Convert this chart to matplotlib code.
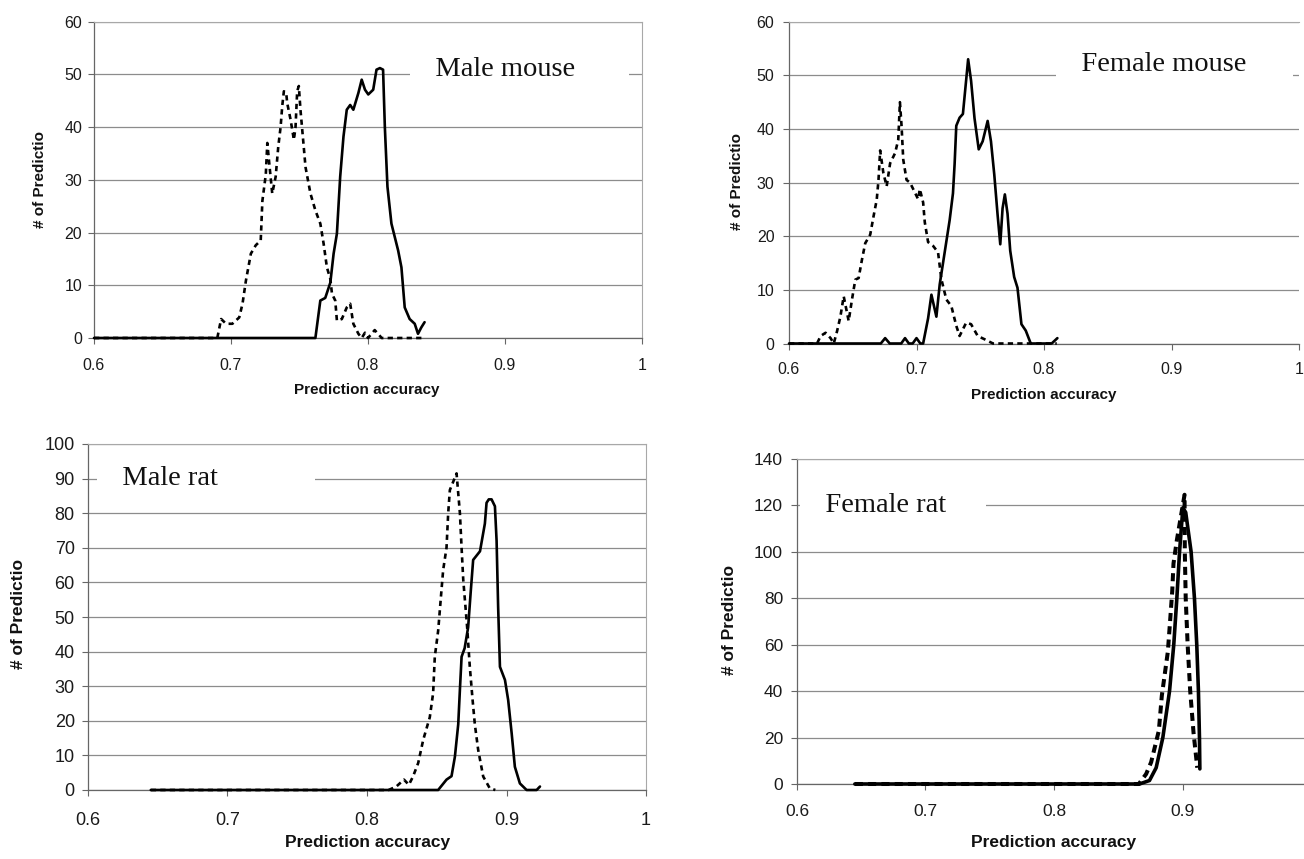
import matplotlib
matplotlib.use("Agg")
import matplotlib.pyplot as plt

# ---------------- data ----------------
x_ticks = [0.6, 0.7, 0.8, 0.9, 1.0]
x_tick_labels = ["0.6", "0.7", "0.8", "0.9", "1"]

# Male mouse
mm_solid_x = [0.600, 0.7616, 0.7652, 0.7688, 0.7725, 0.7749, 0.7773, 0.7797, 0.7821, 0.7845, 0.787,
              0.7893, 0.793, 0.7954, 0.7978, 0.8002, 0.8038, 0.8062, 0.8087, 0.811, 0.8123, 0.8142,
              0.8171, 0.822, 0.8244, 0.8268, 0.8304, 0.8341, 0.8365, 0.8389, 0.8413]
mm_solid_y = [0, 0, 7.1, 7.6, 10.5, 16, 19.8, 30.6, 38.2, 43.3, 44.2,
              43.3, 46.5, 49, 47.1, 46.2, 47.1, 50.9, 51.2, 50.9, 40, 28.7,
              21.7, 16.6, 13.4, 5.8, 3.6, 2.7, 0.8, 2, 3]
mm_dash_x = [0.600, 0.690, 0.6928, 0.6964, 0.701, 0.706, 0.7084, 0.7109, 0.7145, 0.7181, 0.7217,
             0.7229, 0.7254, 0.7265, 0.7282, 0.7301, 0.7326, 0.7345, 0.7362, 0.7374, 0.7386, 0.7403,
             0.741, 0.7435, 0.7459, 0.7471, 0.7483, 0.7495, 0.7507, 0.752, 0.7544, 0.758, 0.7616,
             0.7652, 0.7676, 0.770, 0.7725, 0.7737, 0.7761, 0.7773, 0.7809, 0.7845, 0.787, 0.7893,
             0.793, 0.7954, 0.7978, 0.800, 0.8049, 0.810, 0.840]
mm_dash_y = [0, 0, 3.6, 2.7, 2.7, 3.9, 6.5, 10.9, 16, 17.6, 18.5,
             26, 31, 37, 32.4, 27.4, 30.6, 36.3, 40, 44, 46.8, 46.5,
             44.6, 41.4, 37.6, 40, 46.8, 47.8, 43.3, 39.5, 32.4, 27.4, 24.2,
             21.7, 17.9, 13.4, 11.2, 8.4, 7.1, 3.3, 3.6, 5.8, 6.5, 2.7,
             0.8, 0, 1, 0, 1.5, 0, 0]

# Female mouse
fm_solid_x = [0.600, 0.672, 0.6754, 0.679, 0.688, 0.691, 0.694, 0.697, 0.700, 0.703, 0.7052,
              0.7091, 0.7117, 0.7156, 0.7182, 0.7221, 0.726, 0.7286, 0.7299, 0.7312, 0.7338,
              0.7364, 0.7389, 0.7405, 0.7428, 0.7455, 0.7488, 0.7519, 0.7558, 0.7584, 0.761,
              0.7636, 0.7657, 0.7675, 0.7693, 0.7714, 0.7735, 0.7766, 0.7792, 0.7823, 0.7857,
              0.7896, 0.806, 0.8105]
fm_solid_y = [0, 0, 1, 0, 0, 1, 0, 0, 1, 0, 0,
              4.7, 9.1, 5, 11, 17, 23, 28, 33.5, 40.6, 42.1,
              42.8, 49, 53, 49, 42, 36.2, 37.7, 41.5, 37.7, 31.5,
              24, 18.5, 25.2, 27.8, 24.2, 17.3, 12.4, 10.4, 3.6, 2.4,
              0, 0, 1]
fm_dash_x = [0.600, 0.622, 0.6248, 0.6287, 0.6326, 0.6351, 0.6377, 0.6403, 0.6429, 0.6468, 0.6494,
             0.652, 0.6546, 0.6572, 0.6598, 0.6637, 0.6663, 0.6688, 0.6702, 0.6715, 0.674, 0.6766,
             0.6793, 0.6832, 0.6857, 0.687, 0.6883, 0.6896, 0.6922, 0.6949, 0.6974, 0.7013, 0.7026,
             0.7052, 0.7065, 0.7091, 0.713, 0.7169, 0.7195, 0.7234, 0.7273, 0.7312, 0.7338, 0.739,
             0.7428, 0.748, 0.7533, 0.760, 0.810]
fm_dash_y = [0, 0, 1.4, 2, 1, 0, 2.3, 5, 8.8, 4.2, 8.2,
             11.9, 12.2, 15.6, 18.7, 20.3, 23.7, 26.8, 30.5, 36, 31.8, 29.3,
             33.6, 35.5, 38, 45, 40.5, 34.3, 30.5, 30, 28.8, 26.9, 28.8,
             26.3, 22.6, 18.9, 18.2, 17, 12, 8.2, 7, 3.3, 1.4, 3.9,
             3.6, 1.4, 0.8, 0, 0]

# Male rat
mr_solid_x = [0.645, 0.848, 0.851, 0.857, 0.8606, 0.863, 0.8654, 0.8666, 0.8678, 0.870, 0.8725,
              0.8743, 0.8761, 0.881, 0.8845, 0.8857, 0.8873, 0.8893, 0.8917, 0.8929, 0.894,
              0.8953, 0.8989, 0.9012, 0.9037, 0.906, 0.9096, 0.9144, 0.9216, 0.924]
mr_solid_y = [0, 0, 0, 3, 4, 9.6, 19, 29, 38.5, 41, 47,
              57, 66.5, 69, 77, 83, 84, 84, 82, 72, 53,
              35.6, 31.8, 26, 16.4, 6.7, 1.9, 0, 0, 1]
mr_dash_x = [0.645, 0.8155, 0.821, 0.8265, 0.830, 0.833, 0.8367, 0.8403, 0.845, 0.8474, 0.8486,
             0.851, 0.8534, 0.8546, 0.857, 0.8582, 0.8594, 0.8642, 0.8666, 0.8678, 0.869,
             0.8718, 0.8737, 0.8757, 0.8773, 0.8797, 0.8833, 0.888, 0.892]
mr_dash_y = [0, 0, 1, 3, 1.5, 3.9, 7.8, 14.5, 21, 28, 38.5,
             46, 57.8, 63.6, 70, 80, 86.7, 91.5, 80, 70, 60.7,
             47, 35.6, 26, 19, 11.6, 3.9, 0.5, 0]

# Female rat
fr_solid_x = [0.645, 0.8665, 0.8743, 0.8795, 0.8847, 0.8899, 0.8932, 0.8956, 0.8977, 0.9003,
              0.9025, 0.9067, 0.9093, 0.9111, 0.9124, 0.9132, 0.9135]
fr_solid_y = [0, 0, 1.5, 7, 20, 40, 60, 80, 100, 119,
              117, 100, 80, 60, 40, 20, 6.5]
fr_dash_x = [0.645, 0.866, 0.8717, 0.8756, 0.8816, 0.8839, 0.8886, 0.8904, 0.892, 0.893,
             0.8956, 0.9016, 0.9018, 0.9025, 0.904, 0.906, 0.9086, 0.9115]
fr_dash_y = [0, 0, 4.3, 9.4, 23, 38, 57, 70.6, 83, 95,
             105, 124.6, 100, 80, 60, 40, 22, 7]

titles = ["Male mouse", "Female mouse", "Male rat", "Female rat"]
y_maxes = [60, 60, 100, 140]
y_steps = [10, 10, 10, 20]
x_label = "Prediction accuracy"
y_label = "# of Predictio"

# ---------------- layout (pixels) ----------------
W, H = 1304, 859
fig = plt.figure(figsize=(W / 100, H / 100), dpi=100)
fig.patch.set_facecolor("white")


def add_ax(l, r, t, b):
    return fig.add_axes([l / W, 1 - b / H, (r - l) / W, (b - t) / H])


panels = [
    dict(rect=(94, 642, 21.7, 338), data=(mm_solid_x, mm_solid_y, mm_dash_x, mm_dash_y),
         tick_fs=11.5, lab_fs=11, xpad=10.5, ypad=4.5, lw=1.9,
         xlab=(367, 390), ylab=(40, 179),
         box=(0.8336, 51, 3, 7), show_last=True, right_spine=True),
    dict(rect=(789, 1299, 21.7, 343.5), data=(fm_solid_x, fm_solid_y, fm_dash_x, fm_dash_y),
         tick_fs=11.5, lab_fs=11, xpad=9.5, ypad=6.5, lw=1.9,
         xlab=(1044, 395), ylab=(737, 181),
         box=(0.8124, 52, 3, 6), show_last=True, right_spine=False),
    dict(rect=(88, 646, 444, 790), data=(mr_solid_x, mr_solid_y, mr_dash_x, mr_dash_y),
         tick_fs=13, lab_fs=12.5, xpad=11.5, ypad=5.5, lw=1.9,
         xlab=(368, 842), ylab=(19, 614),
         box=(0.6093, 90, 3, 13), show_last=True, right_spine=True),
    dict(rect=(797, 1311, 459, 784), data=(fr_solid_x, fr_solid_y, fr_dash_x, fr_dash_y),
         tick_fs=12.5, lab_fs=12.5, xpad=10.5, ypad=6, lw=2.6,
         xlab=(1054, 842), ylab=(729, 620),
         box=(0.6054, 120, 3, 5), show_last=False, right_spine=True),
]

for i, p in enumerate(panels):
    ax = add_ax(*p["rect"])
    sx, sy, dx, dy = p["data"]
    lw = p["lw"]
    ax.plot(sx, sy, color="black", lw=lw, solid_joinstyle="round", solid_capstyle="round",
            zorder=3, clip_on=False)
    dash = (0, (2.0, 1.6)) if i < 3 else (0, (2.0, 1.3))
    ax.plot(dx, dy, color="black", lw=lw + (0.3 if i == 3 else 0), linestyle=dash,
            dash_capstyle="butt", zorder=3, clip_on=False)

    ax.set_xlim(0.6, 1.0)
    ax.set_ylim(0, y_maxes[i])
    ax.set_xticks(x_ticks)
    ax.set_xticklabels(x_tick_labels)
    if not p["show_last"]:
        ax.get_xticklabels()[-1].set_visible(False)
    ax.set_yticks(list(range(0, y_maxes[i] + 1, y_steps[i])))
    ax.yaxis.grid(True, color="#8c8c8c", lw=0.9)
    ax.set_axisbelow(True)
    ax.tick_params(axis="both", direction="out", length=4, width=0.8, color="#666666",
                   labelsize=p["tick_fs"], labelcolor="#1a1a1a")
    ax.tick_params(axis="x", pad=p["xpad"])
    ax.tick_params(axis="y", pad=p["ypad"])
    for lab in ax.get_xticklabels() + ax.get_yticklabels():
        lab.set_fontfamily("Liberation Sans")
    for side in ["left", "bottom"]:
        ax.spines[side].set_color("#666666")
        ax.spines[side].set_linewidth(0.9)
    for side in ["top", "right"]:
        ax.spines[side].set_color("#a8a8a8")
        ax.spines[side].set_linewidth(0.8)
    if not p["right_spine"]:
        ax.spines["right"].set_visible(False)

    bx, by, lsp, rsp = p["box"]
    ax.text(bx, by, "\u00a0" * lsp + titles[i] + "\u00a0" * rsp, fontfamily="Liberation Serif",
            fontsize=20.5, ha="left", va="center", color="#111111", zorder=2.5,
            bbox=dict(boxstyle="square,pad=0.15", fc="white", ec="none"))

    fig.text(p["xlab"][0] / W, 1 - p["xlab"][1] / H, x_label, ha="center", va="center",
             fontfamily="Liberation Sans", fontweight="bold", fontsize=p["lab_fs"], color="#111111")
    fig.text(p["ylab"][0] / W, 1 - p["ylab"][1] / H, y_label, ha="center", va="center",
             rotation=90, fontfamily="Liberation Sans", fontweight="bold",
             fontsize=p["lab_fs"], color="#111111")

fig.savefig("out.png", dpi=100, facecolor="white")
